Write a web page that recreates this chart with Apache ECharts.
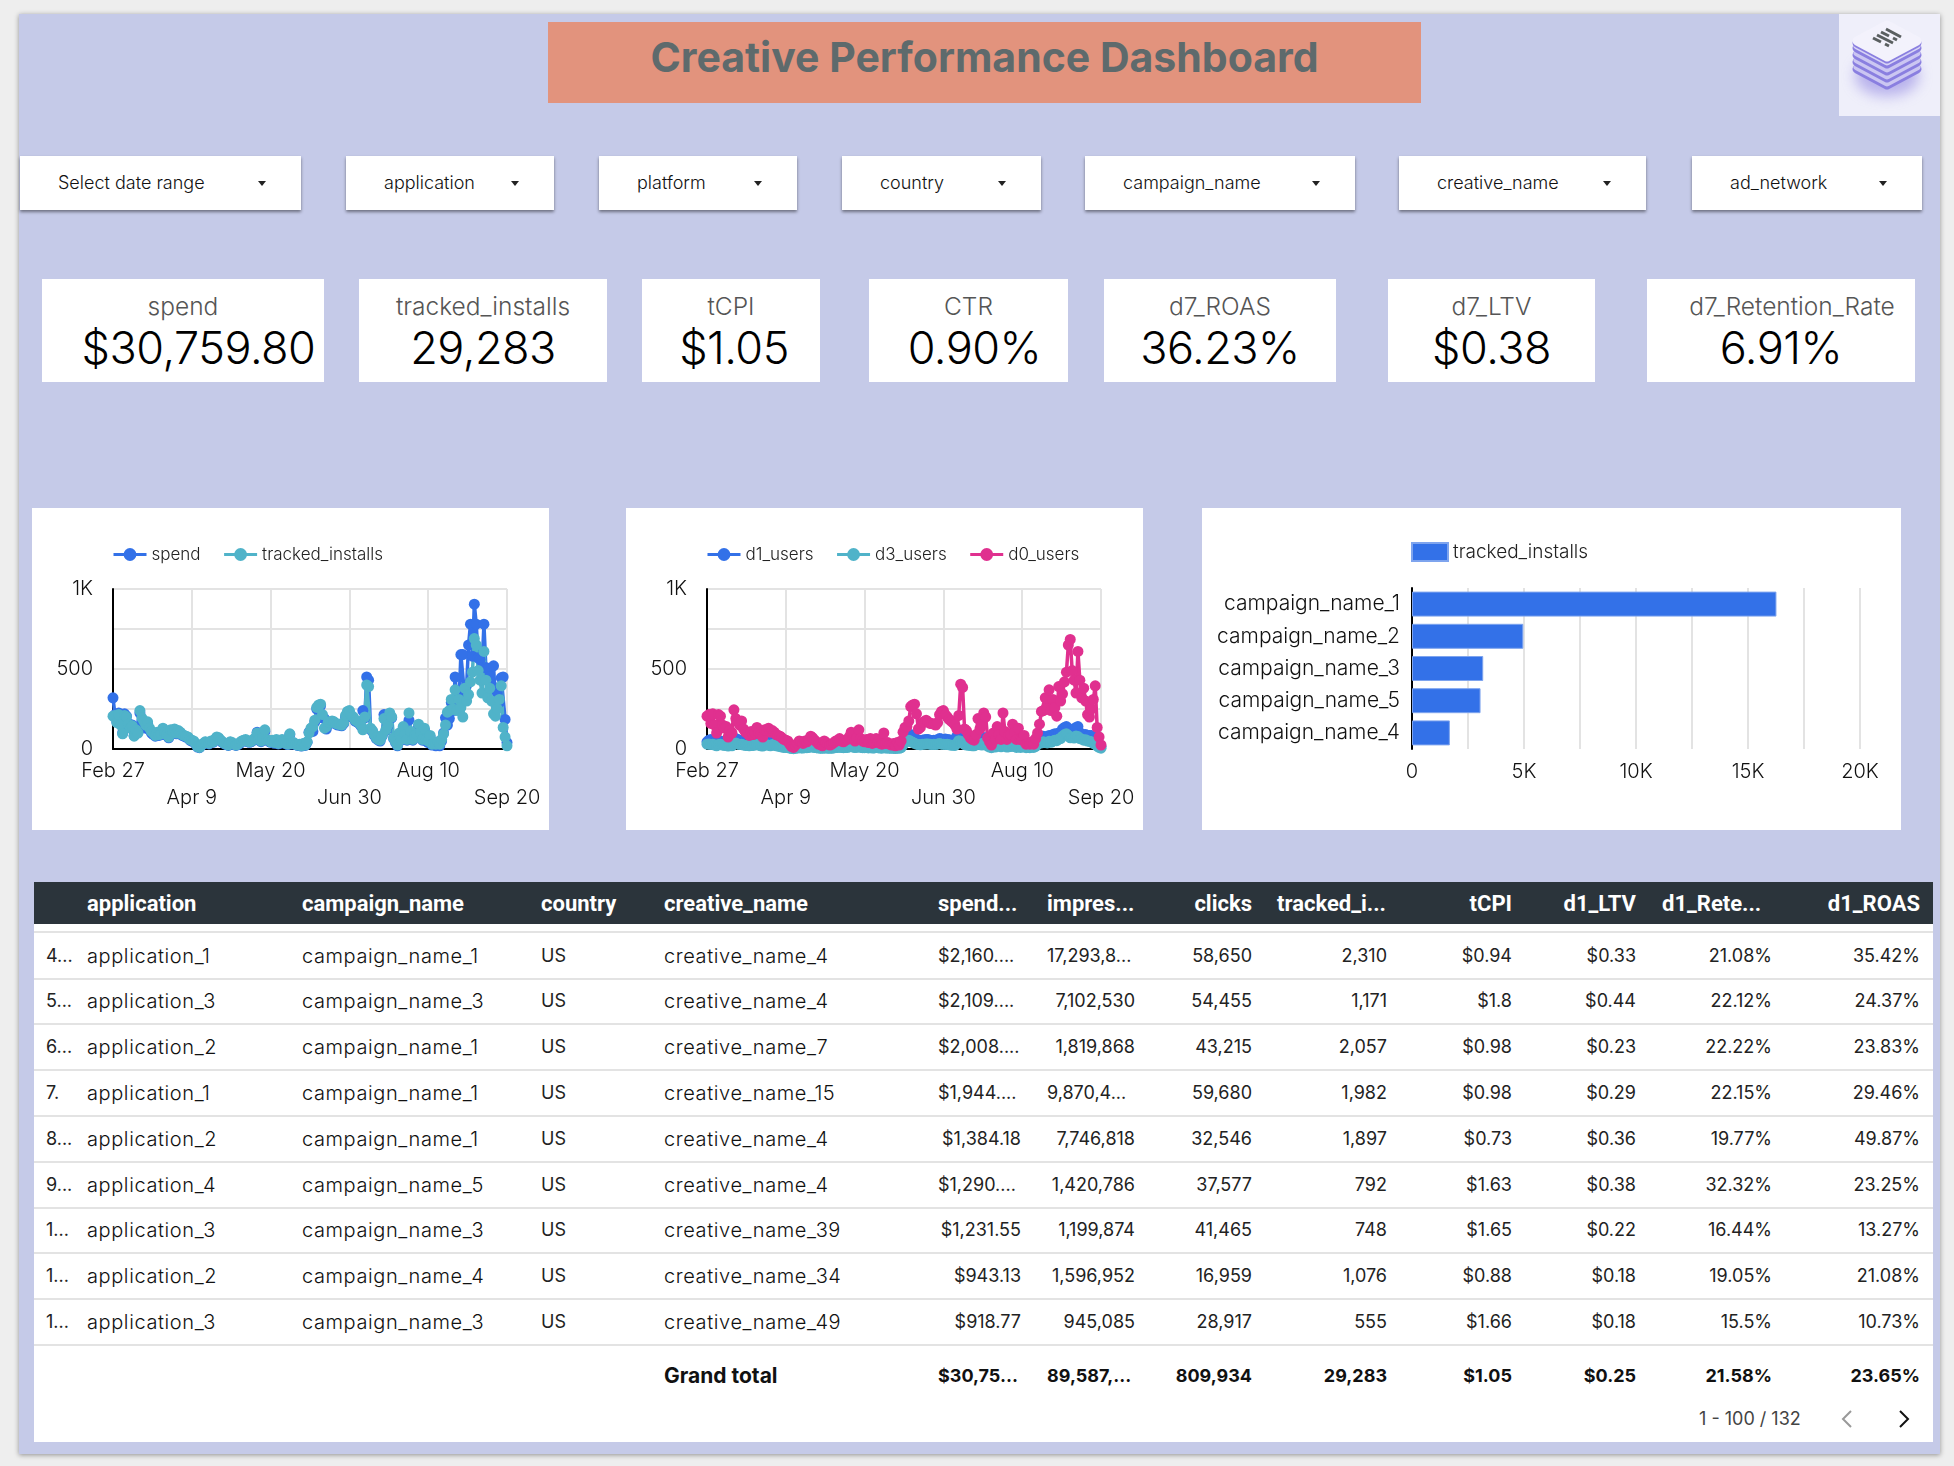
<!DOCTYPE html>
<html>
<head>
<meta charset="utf-8">
<title>Creative Performance Dashboard</title>
<script src="https://cdn.jsdelivr.net/npm/echarts@6/dist/echarts.min.js"></script>
<style>
	html, body { margin: 0; padding: 0; background: #eeeeee; }
	body { width: 1954px; height: 1466px; position: relative; overflow: hidden; font-family: Inter, sans-serif; color: #222; }
	.abs { position: absolute; white-space: nowrap; }
	#canvas { left: 19px; top: 14px; width: 1921px; height: 1440px; background: #c5cae8; box-shadow: 0 1px 5px rgba(0,0,0,.4); }
	#title { left: 548px; top: 22px; width: 873px; height: 81px; line-height: 70px; background: #e2937d; text-align: center; font-size: 41px; font-weight: 700; color: #5e6a6c; }
	#logo { left: 1839px; top: 14px; width: 101px; height: 102px; background: #efeffa; }
	.drop { height: 54px; top: 156px; background: #fff; box-shadow: 0 2px 3px rgba(0,0,0,.45); line-height: 54px; font-size: 18px; font-weight: 300; color: #111; }
	.drop span { position: absolute; left: 38px; }
	.drop i { position: absolute; right: 35px; top: 25px; width: 0; height: 0; border-left: 4px solid transparent; border-right: 4px solid transparent; border-top: 5px solid #222; }
	.kpi { top: 279px; height: 103px; background: #fff; }
	.kpi div { position: absolute; left: 0; right: 0; text-align: center; }
	.kpi .lab { top: 12px; font-size: 24.5px; font-weight: 300; color: #555; line-height: 30px; }
	.kpi .val { top: 39px; font-size: 45px; font-weight: 300; color: #000; line-height: 60px; letter-spacing: -0.5px; }
	.card { top: 508px; height: 322px; background: #fff; }
	#tbl { left: 34px; top: 882px; width: 1899px; height: 560px; background: #fff; }
	#thead { left: 0; top: 0; width: 1899px; height: 42px; background: #2b343b; }
	.th { top: 0; line-height: 44px; font-family: Roboto, sans-serif; font-weight: 700; font-size: 22px; color: #fff; }
	.td { font-size: 18px; line-height: 24px; color: #222; }
	.wide { font-size: 20px; letter-spacing: 0.6px; font-weight: 300; color: #111; }
	.line { left: 0; width: 1899px; height: 2px; background: #e3e3e3; }
	.total { font-weight: 700; color: #111; }
</style>
</head>
<body>
<div id="canvas" class="abs"></div>
<div id="title" class="abs">Creative Performance Dashboard</div>
<div id="logo" class="abs">
	<svg width="101" height="102" viewBox="0 0 101 102">
		<defs>
			<filter id="blur" x="-40%" y="-40%" width="180%" height="180%"><feGaussianBlur stdDeviation="7"/></filter>
			<path id="layer" d="M48 11 L78 27 L48 43 L18 27 Z" stroke-linejoin="round"/>
		</defs>
		<ellipse cx="48" cy="62" rx="32" ry="20" fill="#8a7fe0" opacity="0.55" filter="url(#blur)"/>
		<use href="#layer" y="28" fill="#8a7fe0" stroke="#8a7fe0" stroke-width="9"/>
		<use href="#layer" y="26" fill="#cbc6f2" stroke="#cbc6f2" stroke-width="7"/>
		<use href="#layer" y="21" fill="#8a7fe0" stroke="#8a7fe0" stroke-width="9"/>
		<use href="#layer" y="19" fill="#cbc6f2" stroke="#cbc6f2" stroke-width="7"/>
		<use href="#layer" y="14" fill="#8a7fe0" stroke="#8a7fe0" stroke-width="9"/>
		<use href="#layer" y="12" fill="#cbc6f2" stroke="#cbc6f2" stroke-width="7"/>
		<use href="#layer" y="7" fill="#8a7fe0" stroke="#8a7fe0" stroke-width="9"/>
		<use href="#layer" y="5" fill="#d8d4f6" stroke="#d8d4f6" stroke-width="7"/>
		<use href="#layer" y="2" fill="#8a7fe0" stroke="#8a7fe0" stroke-width="9"/>
		<use href="#layer" fill="#f3f2fc" stroke="#f3f2fc" stroke-width="9"/>
		<path d="M47 15 L62 23 M42 18 L50 22 M54 24 L58 26 M38 21 L54 29 M34 24 L42 28 M46 30 L50 32" stroke="#5a5f60" stroke-width="3" fill="none"/>
	</svg>
</div>
<div id="drops"></div>
<div id="kpis"></div>
<div id="chart1" class="abs card" style="left:32px;width:517px"></div>
<div id="chart2" class="abs card" style="left:626px;width:517px"></div>
<div id="chart3" class="abs card" style="left:1202px;width:699px"></div>
<div id="tbl" class="abs"><div id="thead" class="abs"></div></div>
<script>
// filters
var dropNames = ['Select date range', 'application', 'platform', 'country', 'campaign_name', 'creative_name', 'ad_network'];
var dropLeft = [20, 346, 599, 842, 1085, 1399, 1692];
var dropRight = [301, 554, 797, 1041, 1355, 1646, 1922];

// scorecards
var kpiNames = ['spend', 'tracked_installs', 'tCPI', 'CTR', 'd7_ROAS', 'd7_LTV', 'd7_Retention_Rate'];
var kpiValues = ['$30,759.80', '29,283', '$1.05', '0.90%', '36.23%', '$0.38', '6.91%'];
var kpiLeft = [42, 359, 642, 869, 1104, 1388, 1647];
var kpiRight = [324, 607, 820, 1068, 1336, 1595, 1915];
var kpiShift = [31, 0, 6, 12, 0, 0, 0];
var kpiLabelShift = [0, 0, 0, 0, 0, 0, 22];

// daily values, one line for each 41 days stretch starting on the tick date
var spend = [
	320,215,170,225,155,100,220,205,160,135,150,85,125,105,225,175,160,130,160,120,100,90,80,100,85,90,125,95,85,70,115,105,120,95,110,100,85,80,75,70,55,
	50,45,30,12,8,22,32,42,38,32,46,42,55,70,65,50,42,32,28,22,42,36,28,22,28,36,46,50,55,46,42,46,55,65,105,55,46,65,110,55,50,
	42,50,36,55,32,36,55,42,32,28,90,32,36,28,22,28,18,32,22,42,105,120,110,170,250,265,270,195,190,125,160,160,170,165,155,150,150,145,160,200,225,
	225,205,195,175,170,160,145,240,195,450,430,125,110,85,65,55,50,80,215,115,145,190,195,65,40,20,95,55,130,85,55,180,105,55,80,85,140,95,55,120,50,
	40,75,25,30,20,35,20,50,100,195,150,190,290,240,450,300,280,590,590,330,400,650,780,580,905,780,570,560,510,780,510,500,450,400,520,300,350,290,445,450,185,40
];
var trackedInstalls = [
	205,210,165,215,150,95,210,200,155,130,145,80,120,100,240,195,175,150,170,130,110,100,85,105,90,95,130,100,90,75,120,110,125,100,115,105,90,85,80,75,60,
	55,50,35,15,10,25,35,45,40,35,50,45,60,75,70,55,45,35,30,25,45,40,30,25,30,40,50,55,60,50,45,50,60,70,100,60,50,70,120,60,55,
	45,55,40,60,35,40,60,45,35,30,95,35,40,30,25,30,20,35,25,45,100,130,140,180,260,275,280,215,130,140,170,165,175,170,160,155,155,150,165,210,235,
	240,210,200,180,175,165,150,120,200,400,390,130,115,90,70,60,55,85,190,120,150,225,200,70,45,25,100,60,140,90,60,225,110,60,85,90,155,100,60,130,60,
	50,85,30,35,30,45,30,60,95,150,230,240,310,250,370,240,310,260,200,380,300,340,420,480,690,650,490,430,350,610,430,320,380,300,220,205,250,310,395,135,75,20
];
var d1Users = [
	45,55,60,55,50,45,40,50,45,40,45,35,40,45,60,65,60,55,50,45,40,40,35,40,40,40,45,40,35,30,40,45,40,35,45,40,35,35,30,30,25,
	22,20,15,10,8,10,14,16,16,14,18,18,22,28,26,20,18,14,12,10,14,14,12,10,12,14,18,22,24,20,18,20,22,26,32,24,20,22,28,22,20,
	18,22,16,20,14,16,22,18,14,12,26,14,14,12,10,12,8,14,10,18,40,60,72,85,90,82,70,62,55,50,55,58,60,60,55,52,55,55,58,65,62,
	60,62,60,58,55,52,50,80,88,85,75,65,60,58,55,52,50,60,78,62,60,72,60,40,30,22,35,30,42,38,32,50,42,30,35,35,45,38,28,38,30,
	25,30,18,20,16,20,18,28,60,72,70,80,75,72,85,78,90,95,88,100,105,125,135,140,130,100,105,98,135,140,95,95,85,90,80,85,85,70,80,55,30,15
];
var d3Users = [
	30,32,28,30,25,20,28,30,25,22,25,18,22,20,35,38,32,28,30,25,22,22,20,22,22,25,28,24,20,18,24,26,24,20,28,24,20,18,15,12,10,
	10,9,6,3,2,4,6,8,7,6,9,8,10,14,12,9,8,6,5,4,6,6,5,4,5,7,9,10,12,9,8,9,10,13,18,12,9,11,15,10,8,
	8,10,7,9,6,7,10,8,6,5,14,6,6,5,4,5,3,6,4,8,25,40,50,55,48,42,36,30,28,26,30,30,32,32,30,28,30,28,32,35,30,
	30,28,30,26,24,24,22,35,52,48,38,28,25,24,22,20,20,26,36,28,25,38,28,18,12,8,14,12,22,18,14,26,20,12,14,15,22,16,10,16,10,
	12,16,8,10,8,12,10,16,30,40,38,45,40,38,48,42,50,55,52,62,65,80,90,95,85,70,72,68,82,78,65,62,55,58,50,48,45,35,30,18,10,5
];
var d0Users = [
	205,215,160,220,150,100,215,205,150,130,140,75,115,100,245,190,170,150,175,125,105,100,85,110,90,100,135,100,90,75,120,115,130,105,115,105,90,85,80,70,60,
	55,50,30,15,10,25,35,50,45,35,50,45,60,80,70,55,45,30,30,20,50,40,30,25,30,40,50,55,65,50,45,55,60,75,105,60,50,70,120,65,50,
	45,60,40,65,35,40,65,45,35,30,100,35,40,30,25,35,20,40,25,50,105,135,140,175,265,275,280,220,125,135,165,170,180,170,160,160,155,150,165,215,235,
	240,215,200,185,175,165,150,125,210,405,385,125,115,90,70,60,55,90,190,125,150,225,200,70,45,25,100,60,140,90,60,225,110,60,85,90,155,100,60,130,60,
	55,85,30,35,30,45,30,65,100,155,235,240,320,250,370,240,310,260,205,390,300,345,420,480,650,685,490,430,350,610,430,320,380,300,215,200,250,310,395,135,75,25
];

// bars
var campaigns = ['campaign_name_1', 'campaign_name_2', 'campaign_name_3', 'campaign_name_5', 'campaign_name_4'];
var campaignInstalls = [16270, 4970, 3180, 3060, 1690];

// table, one list for each column
var colIndex = ['4...', '5...', '6...', '7.', '8...', '9...', '1...', '1...', '1...'];
var colApplication = ['application_1', 'application_3', 'application_2', 'application_1', 'application_2', 'application_4', 'application_3', 'application_2', 'application_3'];
var colCampaign = ['campaign_name_1', 'campaign_name_3', 'campaign_name_1', 'campaign_name_1', 'campaign_name_1', 'campaign_name_5', 'campaign_name_3', 'campaign_name_4', 'campaign_name_3'];
var colCountry = ['US', 'US', 'US', 'US', 'US', 'US', 'US', 'US', 'US'];
var colCreative = ['creative_name_4', 'creative_name_4', 'creative_name_7', 'creative_name_15', 'creative_name_4', 'creative_name_4', 'creative_name_39', 'creative_name_34', 'creative_name_49'];
var colSpend = ['$2,160....', '$2,109....', '$2,008....', '$1,944....', '$1,384.18', '$1,290....', '$1,231.55', '$943.13', '$918.77'];
var colImpressions = ['17,293,8...', '7,102,530', '1,819,868', '9,870,4...', '7,746,818', '1,420,786', '1,199,874', '1,596,952', '945,085'];
var colClicks = ['58,650', '54,455', '43,215', '59,680', '32,546', '37,577', '41,465', '16,959', '28,917'];
var colTracked = ['2,310', '1,171', '2,057', '1,982', '1,897', '792', '748', '1,076', '555'];
var colTcpi = ['$0.94', '$1.8', '$0.98', '$0.98', '$0.73', '$1.63', '$1.65', '$0.88', '$1.66'];
var colLtv = ['$0.33', '$0.44', '$0.23', '$0.29', '$0.36', '$0.38', '$0.22', '$0.18', '$0.18'];
var colRetention = ['21.08%', '22.12%', '22.22%', '22.15%', '19.77%', '32.32%', '16.44%', '19.05%', '15.5%'];
var colRoas = ['35.42%', '24.37%', '23.83%', '29.46%', '49.87%', '23.25%', '13.27%', '21.08%', '10.73%'];
var tableHeads = ['application', 'campaign_name', 'country', 'creative_name', 'spend...', 'impres...', 'clicks', 'tracked_i...', 'tCPI', 'd1_LTV', 'd1_Rete...', 'd1_ROAS'];
var tableTotals = ['', '', '', 'Grand total', '$30,75...', '89,587,...', '809,934', '29,283', '$1.05', '$0.25', '21.58%', '23.65%'];

// days on the x axis
var monthNames = ['Jan', 'Feb', 'Mar', 'Apr', 'May', 'Jun', 'Jul', 'Aug', 'Sep'];
var days = [];
for (var d = 0; d < 206; d++) {
	var dt = new Date(2021, 1, 27 + d);
	days.push(monthNames[dt.getMonth()] + ' ' + dt.getDate());
}

var BLUE = '#3371e8', TEAL = '#50b3c9', PINK = '#e0308f';

function addBox(parent, cls, css, text) {
	var el = document.createElement('div');
	el.className = cls;
	el.style.cssText = css;
	if (text !== undefined) el.textContent = text;
	parent.appendChild(el);
	return el;
}

// dropdown boxes
var drops = document.getElementById('drops');
dropNames.forEach(function(name, i) {
	var box = addBox(drops, 'abs drop', 'left:' + dropLeft[i] + 'px;width:' + (dropRight[i] - dropLeft[i]) + 'px');
	box.innerHTML = '<span></span><i></i>';
	box.firstChild.textContent = name;
});

// score cards
var kpis = document.getElementById('kpis');
kpiNames.forEach(function(name, i) {
	var box = addBox(kpis, 'abs kpi', 'left:' + kpiLeft[i] + 'px;width:' + (kpiRight[i] - kpiLeft[i]) + 'px');
	addBox(box, 'lab', 'left:' + kpiLabelShift[i] + 'px', name);
	addBox(box, 'val', 'left:' + kpiShift[i] + 'px', kpiValues[i]);
});

// table. left aligned columns have a left position, right aligned ones a right edge
var tbl = document.getElementById('tbl');
var thead = document.getElementById('thead');
var colLeft = [53, 268, 507, 630, 904, 1013, 0, 1243, 0, 0, 1628, 0];
var colRight = [0, 0, 0, 0, 987, 1101, 1218, 1353, 1478, 1602, 1738, 1886];
var columns = [colApplication, colCampaign, colCountry, colCreative, colSpend, colImpressions, colClicks, colTracked, colTcpi, colLtv, colRetention, colRoas];

function cell(cls, text, c, top) {
	var cut = text.indexOf('...') > -1;
	var css = 'top:' + top + 'px;';
	if (c < 4 || cut) css += 'left:' + colLeft[c] + 'px';
	else css += 'right:' + (1899 - colRight[c]) + 'px';
	return addBox(tbl, 'abs ' + cls, css, text);
}

tableHeads.forEach(function(text, c) {
	var cut = text.indexOf('...') > -1;
	var css = (c < 4 || cut) ? 'left:' + colLeft[c] + 'px' : 'right:' + (1899 - colRight[c]) + 'px';
	addBox(thead, 'abs th', css, text);
});
addBox(tbl, 'abs line', 'top:49px');
colIndex.forEach(function(text, r) {
	var rowMid = 73.5 + r * 45.8;
	addBox(tbl, 'abs td', 'left:12px;top:' + (rowMid - 12) + 'px', text);
	columns.forEach(function(col, c) {
		var cls = (c === 0 || c === 1 || c === 3) ? 'td wide' : 'td';
		cell(cls, col[r], c, rowMid - 12);
	});
	addBox(tbl, 'abs line', 'top:' + (95.5 + r * 45.8) + 'px');
});
tableTotals.forEach(function(text, c) {
	if (!text) return;
	var el = cell('td total', text, c, 482);
	if (c === 3) el.style.fontSize = '21px';
});
addBox(tbl, 'abs td', 'left:1665px;top:525px;color:#444', '1 - 100 / 132');
var pager = addBox(tbl, 'abs', 'left:1805px;top:525px');
pager.innerHTML = '<svg width="90" height="24"><path d="M12 4 L4 12 L12 20" fill="none" stroke="#999" stroke-width="2"/><path d="M61 4 L69 12 L61 20" fill="none" stroke="#111" stroke-width="2"/></svg>';

function lineOption(names, values, colors) {
	return {
		animation: false,
		textStyle: { fontFamily: 'Inter' },
		legend: {
			left: 75, top: 33, itemWidth: 33, itemHeight: 16, itemGap: 22,
			lineStyle: { width: 3 },
			textStyle: { fontSize: 17, color: '#222', fontWeight: 300 }
		},
		grid: { left: 81, right: 42, top: 81, bottom: 81 },
		xAxis: {
			type: 'category',
			boundaryGap: false,
			data: days,
			axisLine: { lineStyle: { color: '#000', width: 2 } },
			axisTick: { show: false },
			splitLine: { show: true, interval: 40, lineStyle: { color: '#e3e3e3', width: 2 } },
			axisLabel: {
				interval: 40,
				margin: 8,
				fontSize: 20,
				color: '#111',
				fontWeight: 300,
				lineHeight: 27,
				showMinLabel: true,
				showMaxLabel: true,
				formatter: function(value, index) {
					return (index / 41) % 2 === 0 ? value : '\n' + value;
				}
			}
		},
		yAxis: {
			type: 'value',
			min: 0,
			max: 1000,
			interval: 250,
			axisLine: { show: true, lineStyle: { color: '#000', width: 2 } },
			axisTick: { show: false },
			splitLine: { lineStyle: { color: '#e3e3e3', width: 2 } },
			axisLabel: {
				margin: 20,
				fontSize: 20,
				color: '#111',
				fontWeight: 300,
				padding: [6, 0, 0, 0],
				formatter: function(value) {
					if (value === 1000) return '1K';
					return value % 500 === 0 ? String(value) : '';
				}
			}
		},
		series: names.map(function(name, i) {
			return {
				name: name,
				type: 'line',
				data: values[i],
				clip: false,
				symbol: 'circle',
				symbolSize: 11,
				showAllSymbol: true,
				lineStyle: { width: 3.5, color: colors[i] },
				itemStyle: { color: colors[i] }
			};
		})
	};
}

echarts.init(document.getElementById('chart1')).setOption(
	lineOption(['spend', 'tracked_installs'], [spend, trackedInstalls], [BLUE, TEAL])
);
echarts.init(document.getElementById('chart2')).setOption(
	lineOption(['d1_users', 'd3_users', 'd0_users'], [d1Users, d3Users, d0Users], [BLUE, TEAL, PINK])
);

echarts.init(document.getElementById('chart3')).setOption({
	animation: false,
	textStyle: { fontFamily: 'Inter' },
	legend: {
		left: 204, top: 29, itemWidth: 36, itemHeight: 18, icon: 'rect',
		textStyle: { fontSize: 19, color: '#222', fontWeight: 300 }
	},
	grid: { left: 210, right: 41, top: 80, bottom: 81 },
	xAxis: {
		type: 'value',
		min: 0,
		max: 20000,
		interval: 2500,
		axisLine: { show: false },
		axisTick: { show: false },
		splitLine: { lineStyle: { color: '#e3e3e3', width: 2 } },
		axisLabel: {
			margin: 13,
			fontSize: 20,
			color: '#111',
			fontWeight: 300,
			hideOverlap: false,
			formatter: function(value) {
				if (value === 0) return '0';
				return value % 5000 === 0 ? (value / 1000) + 'K' : '';
			}
		}
	},
	yAxis: {
		type: 'category',
		inverse: true,
		data: campaigns,
		axisLine: { show: true, lineStyle: { color: '#000', width: 2 } },
		axisTick: { show: false },
		axisLabel: { margin: 12, fontSize: 21, color: '#111', fontWeight: 300, padding: [4, 0, 0, 0] }
	},
	series: [{
		name: 'tracked_installs',
		type: 'bar',
		data: campaignInstalls,
		barWidth: 25,
		itemStyle: { color: BLUE, borderColor: '#7ea4ee', borderWidth: 1 }
	}]
});
</script>
</body>
</html>
